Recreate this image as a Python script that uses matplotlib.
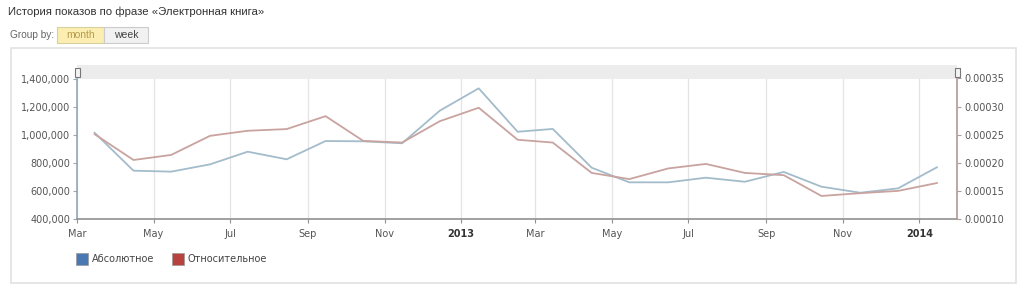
import datetime as dt
import matplotlib
matplotlib.use("Agg")
import matplotlib.pyplot as plt
import matplotlib.dates as mdates
from matplotlib.patches import Rectangle
from matplotlib.ticker import FuncFormatter, MultipleLocator

# Месяцы (точки в середине месяца), март 2012 - январь 2014
meses = [dt.date(2012 + (2 + i) // 12, (2 + i) % 12 + 1, 15) for i in range(23)]

absolutno = [1014000, 744000, 737000, 789000, 879000, 825000, 955000, 953000,
             939000, 1171000, 1330000, 1021000, 1041000, 765000, 661000, 661000,
             694000, 665000, 735000, 630000, 587000, 618000, 768000]

otnositelno = [0.000251, 0.000205, 0.000214, 0.000248, 0.000257, 0.000260,
               0.000283, 0.000239, 0.000236, 0.000274, 0.000298, 0.000241,
               0.000236, 0.000182, 0.000171, 0.000190, 0.000198, 0.000182,
               0.000178, 0.000141, 0.000146, 0.000150, 0.000164]

titulo = "История показов по фразе «Электронная книга»"
legenda = ["Абсолютное", "Относительное"]

W, H = 1024, 290


def fx(px):
    return px / W


def fy(py):
    return 1 - py / H


figura = plt.figure(figsize=(W / 100, H / 100), dpi=100)
figura.patch.set_facecolor("white")

# moldura externa
figura.patches.append(Rectangle((fx(11), fy(283)), fx(1005), (283 - 48) / H,
                                transform=figura.transFigure, facecolor="none",
                                edgecolor="#e2e2e2", linewidth=1.2, zorder=-1))

figura.text(fx(8), fy(12), titulo, fontsize=8.2, color="#333333",
            family="Liberation Sans", va="center", ha="left")
figura.text(fx(10), fy(35), "Group by:", fontsize=7.3, color="#666666",
            family="Liberation Sans", va="center", ha="left")

# botoes month / week
figura.patches.append(Rectangle((fx(57), fy(43)), fx(47), 16 / H,
                                transform=figura.transFigure, facecolor="#fbeeb0",
                                edgecolor="#d8cfa0", linewidth=0.8))
figura.patches.append(Rectangle((fx(104), fy(43)), fx(44), 16 / H,
                                transform=figura.transFigure, facecolor="#f1f1f1",
                                edgecolor="#cccccc", linewidth=0.8))
figura.text(fx(80.5), fy(35), "month", fontsize=7.5, color="#b89a50",
            family="Liberation Sans", va="center", ha="center")
figura.text(fx(126), fy(35), "week", fontsize=7.5, color="#444444",
            family="Liberation Sans", va="center", ha="center")

# barra de navegacao
figura.patches.append(Rectangle((fx(77), fy(79)), fx(880), 14 / H,
                                transform=figura.transFigure, facecolor="#ececec",
                                edgecolor="none", zorder=-1))
for xh in (77, 957):
    figura.patches.append(Rectangle((fx(xh - 2.5), fy(77)), fx(5), 9 / H,
                                    transform=figura.transFigure, facecolor="#f4f4f4",
                                    edgecolor="#777777", linewidth=0.8, zorder=5))

eixo = figura.add_axes([fx(77), fy(219), fx(880), 140.5 / H])
eixo2 = eixo.twinx()
eixo.patch.set_alpha(0)
eixo2.patch.set_alpha(0)

cor_abs = "#a3bccb"
cor_rel = "#c8a39f"

eixo.plot(meses, absolutno, color=cor_abs, linewidth=1.3, zorder=3)
eixo2.plot(meses, otnositelno, color=cor_rel, linewidth=1.3, zorder=3)

eixo.set_xlim(dt.date(2012, 3, 1), dt.date(2014, 1, 31))
eixo.set_ylim(400000, 1400000)
eixo2.set_ylim(0.0001, 0.00035)
eixo.yaxis.set_major_locator(MultipleLocator(200000))
eixo2.yaxis.set_major_locator(MultipleLocator(0.00005))
eixo.yaxis.set_major_formatter(FuncFormatter(lambda v, p: f"{int(round(v)):,}"))
eixo2.yaxis.set_major_formatter(FuncFormatter(lambda v, p: f"{v:.5f}"))

eixo.xaxis.set_major_locator(mdates.MonthLocator(bymonth=[1, 3, 5, 7, 9, 11]))


def rotulo_data(v, p):
    d = mdates.num2date(v)
    return str(d.year) if d.month == 1 else d.strftime("%b")


eixo.xaxis.set_major_formatter(FuncFormatter(rotulo_data))
eixo.grid(axis="x", color="#e4e4e4", linewidth=0.9)
eixo.set_axisbelow(True)

eixo.spines["top"].set_visible(False)
eixo2.spines["top"].set_visible(False)
eixo.spines["right"].set_visible(False)
eixo.spines["left"].set_color("#94a8b6")
eixo.spines["left"].set_linewidth(1.2)
eixo.spines["bottom"].set_color("#909090")
eixo.spines["bottom"].set_linewidth(1.2)
eixo2.spines["right"].set_color("#b09a96")
eixo2.spines["right"].set_linewidth(1.2)
eixo2.spines["left"].set_visible(False)
eixo2.spines["bottom"].set_visible(False)

eixo.tick_params(axis="y", labelsize=7, colors="#555555", length=3, width=0.8,
                 pad=2, color="#94a8b6")
eixo2.tick_params(axis="y", labelsize=7, colors="#555555", length=3, width=0.8,
                  pad=2, color="#b09a96")
eixo.tick_params(axis="x", labelsize=7, colors="#555555", length=3, width=0.8,
                 pad=4, color="#909090")
figura.canvas.draw()
for rot in eixo.get_xticklabels():
    if rot.get_text().isdigit():
        rot.set_fontweight("bold")
        rot.set_color("#333333")

# legenda
for nome, cor, xl in zip(legenda, ["#4a78b2", "#b8433e"], [76, 172]):
    figura.patches.append(Rectangle((fx(xl), fy(265)), fx(12), 12 / H,
                                    transform=figura.transFigure, facecolor=cor,
                                    edgecolor="#999999", linewidth=0.5))
    figura.text(fx(xl + 16), fy(259), nome, fontsize=7, color="#444444",
                va="center", ha="left")

figura.savefig("out.png", dpi=100)
